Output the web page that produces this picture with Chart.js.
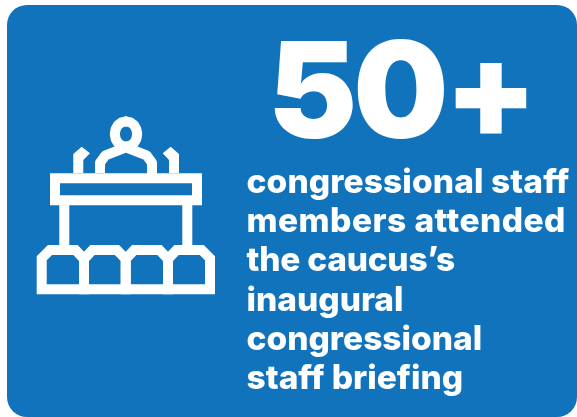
<!DOCTYPE html>
<html>
<head>
<meta charset="utf-8">
<script src="https://cdn.jsdelivr.net/npm/chart.js@4"></script>
<style>
html,body{margin:0;padding:0;background:#fff;width:577px;height:417px;overflow:hidden}
#card{position:absolute;left:7px;top:5px;width:570px;height:412px;background:#1173bc;border-radius:20px}
canvas{position:absolute;left:0;top:0}
.t{position:absolute;color:#fff;white-space:nowrap;font-family:Inter,sans-serif;line-height:1}
#big{left:268px;top:22px;font-size:134px;font-weight:900;letter-spacing:-4px}
.c{left:246.5px;font-size:33.5px;font-weight:800}
</style>
</head>
<body>
<div id="card"></div>
<canvas id="c" width="577" height="417"></canvas>
<div id="big" class="t"></div>
<div id="cap"></div>
<script>
const headline = "50+";
const captionLines = ["congressional staff","members attended","the caucus’s","inaugural","congressional","staff briefing"];
const captionBaselines = [193,232,271,311,350,389];
const captionTracking = [0.1,0.45,-0.25,0,0,0];

const podium = [[55,178.3],[197,178.3],[197,200.3],[55,200.3],[55,178.3]];
const legLeft = [[64.3,200],[64.3,246]];
const legRight = [[187.3,200],[187.3,246]];
const head = [[126,121.3],[130.3,122.3],[134,125],[136.3,129],[137.2,134],[136.3,139],[134,143],[130.3,145.7],[126,146.7],[121.7,145.7],[118,143],[115.7,139],[114.8,134],[115.7,129],[118,125],[121.7,122.3],[126,121.3]];
const body = [[100,173],[100,162.7],[105.5,155.3],[126,147.3],[146.5,155.3],[152,162.7],[152,173]];
const flagLeft = [[73.3,173],[73.3,154],[81.7,146.7],[90,153.3],[83.3,160],[83.3,173],[73.3,173]];
const flagRight = [[179,173],[179,154],[170.7,146.7],[162.7,153.3],[169,160],[169,173],[179,173]];
const seat1 = [[41.7,289.3],[41.7,258.3],[50,250],[75.5,250],[84,259],[84,289.3],[41.7,289.3]];
const seat2 = [[84,289.3],[84,259],[92.5,250],[117,250],[125.7,259],[125.7,289.3],[84,289.3]];
const seat3 = [[125.7,289.3],[125.7,259],[134.2,250],[159.5,250],[168,259],[168,289.3],[125.7,289.3]];
const seat4 = [[168,289.3],[168,259],[176.5,250],[201.7,250],[210,258.3],[210,289.3],[168,289.3]];

const toPts = a => a.map(p => ({x:p[0], y:p[1]}));
const stroke = (a, extra) => Object.assign({data:toPts(a), showLine:true, pointRadius:0, borderColor:'#fff', backgroundColor:'#fff', borderWidth:10, borderJoinStyle:'miter', borderCapStyle:'square', tension:0}, extra||{});

new Chart(document.getElementById('c'), {
  type:'scatter',
  data:{datasets:[
    stroke(podium), stroke(legLeft,{borderCapStyle:'butt'}), stroke(legRight,{borderCapStyle:'butt'}),
    stroke(head,{borderJoinStyle:'round',borderCapStyle:'round'}), stroke(body,{borderCapStyle:'butt',borderJoinStyle:'round'}),
    stroke(flagLeft,{borderWidth:0,fill:'shape'}), stroke(flagRight,{borderWidth:0,fill:'shape'}),
    stroke(seat1), stroke(seat2), stroke(seat3), stroke(seat4)
  ]},
  options:{
    responsive:false, animation:false,
    layout:{padding:0},
    plugins:{legend:{display:false},tooltip:{enabled:false},title:{display:false}},
    scales:{
      x:{type:'linear',min:0,max:577,display:false},
      y:{type:'linear',min:0,max:417,reverse:true,display:false}
    }
  }
});

document.getElementById('big').textContent = headline;
const cap = document.getElementById('cap');
captionLines.forEach((s,i)=>{
  const d=document.createElement('div');
  d.className='t c'; d.textContent=s;
  d.style.top=(captionBaselines[i]-28)+'px';
  d.style.letterSpacing=captionTracking[i]+'px';
  cap.appendChild(d);
});
</script>
</body>
</html>
